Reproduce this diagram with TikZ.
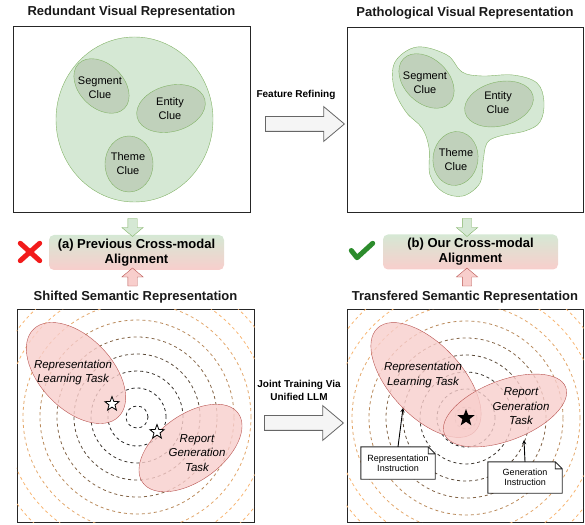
\documentclass[tikz,border=0pt]{standalone}
\usepackage{fontspec}
\setmainfont{Liberation Sans}
\usetikzlibrary{shapes.geometric, shapes.arrows, arrows, positioning}

\definecolor{cluefill}{HTML}{C0D1BB}
\definecolor{clueline}{HTML}{82B366}
\definecolor{greenfill}{HTML}{D5E8D4}
\definecolor{redfill}{HTML}{F8CECC}
\definecolor{redline}{HTML}{B85450}
\definecolor{ringfar}{HTML}{F8B571}
\definecolor{ringnear}{HTML}{262626}
\definecolor{checkgreen}{HTML}{2C8C2C}
\definecolor{crossred}{HTML}{F21B1B}

\tikzstyle{panel} = [rectangle, draw=black!85, line width=1pt, minimum width=237pt, inner sep=0pt]
\tikzstyle{heading} = [font=\fontsize{13}{15.6}\selectfont\bfseries, text=black!90]
\tikzstyle{clue} = [ellipse, draw=clueline, fill=cluefill, inner sep=0pt]
\tikzstyle{cluetext} = [align=center, font=\fontsize{11}{14}\selectfont]
\tikzstyle{task} = [ellipse, draw=redline, fill=redfill, fill opacity=0.8, inner sep=0pt]
\tikzstyle{tasktext} = [align=center, font=\fontsize{11.5}{14.5}\selectfont\itshape]
\tikzstyle{fusion} = [rectangle, rounded corners=5pt, top color=greenfill, bottom color=redfill, minimum width=175pt, minimum height=35pt, align=center, font=\fontsize{13}{15}\selectfont\bfseries]
\tikzstyle{bigarrow} = [single arrow, draw=black!60, fill=black!4, line width=0.8pt, minimum height=79pt, single arrow head extend=10pt, single arrow tip angle=80, inner sep=7pt]
\tikzstyle{steplabel} = [align=center, font=\fontsize{10}{13}\selectfont\bfseries]
\tikzstyle{downflow} = [single arrow, draw=clueline, fill=greenfill, rotate=-90, minimum height=18pt, single arrow head extend=6pt, single arrow tip angle=100, inner sep=4.5pt]
\tikzstyle{upflow} = [single arrow, draw=redline, fill=redfill, rotate=90, minimum height=18pt, single arrow head extend=6pt, single arrow tip angle=100, inner sep=4.5pt]
\tikzstyle{memo} = [rectangle, fill=white, minimum width=74pt, minimum height=32pt, align=center, inner sep=0pt, font=\fontsize{9}{9.8}\selectfont]
\tikzstyle{pointer} = [->, >=stealth, line width=0.9pt]
\tikzstyle{ring} = [dash pattern=on 3pt off 3pt, line width=0.8pt]
\tikzstyle{hollowstar} = [star, star points=5, star point ratio=2.4, draw=black, fill=white, minimum size=15pt, inner sep=0pt, line width=0.8pt]
\tikzstyle{solidstar} = [star, star points=5, star point ratio=2.4, fill=black, minimum size=18pt, inner sep=0pt]

\begin{document}
\begin{tikzpicture}[x=1pt, y=1pt]
\useasboundingbox (0,0) rectangle (585,524);

% visual side
\node (redbox) [panel, minimum height=186pt] at (131.5,404) {};
\node (redtitle) [heading, above=5pt of redbox] {Redundant Visual Representation};
\node (pathbox) [panel, minimum width=236pt, minimum height=185pt] at (465,403.5) {};
\node (pathtitle) [heading, above=5pt of pathbox] {Pathological Visual Representation};

\node (cloud) [ellipse, draw=clueline, fill=greenfill, minimum width=157pt, minimum height=165pt] at (134.5,404.5) {};
\node (segA) [clue, rotate=-44, minimum width=64pt, minimum height=44pt] at (101.5,438) {};
\node (entA) [clue, rotate=15, minimum width=70pt, minimum height=46pt] at (171,415.5) {};
\node (themeA) [clue, minimum width=48pt, minimum height=56pt] at (129,360) {};
\node (segAtext) [cluetext] at (100,436) {Segment\\Clue};
\node (entAtext) [cluetext] at (170,415) {Entity\\Clue};
\node (themeAtext) [cluetext] at (128,360) {Theme\\Clue};

\draw[draw=clueline, fill=greenfill] plot[smooth cycle, tension=0.6] coordinates {(395,462) (417,477) (447,469) (462,452) (482,448) (513,449) (537,441) (544,422) (540,402) (525,393) (500,388) (487,381) (483,362) (480,341) (463,328) (443,332) (430,349) (429,376) (422,396) (406,412) (394,436)};
\node (segB) [clue, rotate=-44, minimum width=64pt, minimum height=44pt] at (426.5,443) {};
\node (entB) [clue, rotate=14, minimum width=70pt, minimum height=44pt] at (499,420) {};
\node (themeB) [clue, rotate=-8, minimum width=45pt, minimum height=54pt] at (455.5,365.5) {};
\node (segBtext) [cluetext] at (425,441) {Segment\\Clue};
\node (entBtext) [cluetext] at (498,421) {Entity\\Clue};
\node (themeBtext) [cluetext] at (456,364) {Theme\\Clue};

\node (refine) [bigarrow] at (300.5,400) {};
\node (refinelabel) [steplabel] at (296,429) {Feature Refining};

% alignment
\node (prevalign) [fusion] at (136.5,271.5) {(a) Previous Cross-modal\\Alignment};
\node (ouralign) [fusion] at (470.5,272) {(b) Our Cross-modal\\Alignment};
\node (visflowA) [downflow] at (132.5,298.5) {};
\node (semflowA) [upflow] at (132.5,245) {};
\node (visflowB) [downflow] at (467,298.5) {};
\node (semflowB) [upflow] at (467,245) {};

\node (fail) [minimum width=19pt, minimum height=17pt, inner sep=0pt] at (30,272) {};
\draw[crossred, line width=5pt, line cap=round] (fail.north west) -- (fail.south east) (fail.north east) -- (fail.south west);
\node (pass) [minimum width=21pt, minimum height=14pt, inner sep=0pt] at (362,273.5) {};
\draw[checkgreen, line width=5pt, line cap=round, line join=round] (pass.west) -- ([xshift=-5pt]pass.south) -- (pass.north east);

% semantic side
\node (shiftbox) [panel, minimum height=212pt] at (135.5,108) {};
\node (shifttitle) [heading, above=3pt of shiftbox] {Shifted Semantic Representation};
\node (transbox) [panel, minimum width=236pt, minimum height=212pt] at (465,108) {};
\node (transtitle) [heading, above=3pt of transbox] {Transfered Semantic Representation};

\foreach \panel/\cx/\cy in {shiftbox/137/107, transbox/466/106} {
  \begin{scope}
    \clip (\panel.south west) rectangle (\panel.north east);
    \foreach \r/\p in {11/0, 29/0, 46/10, 63/25, 80/45, 97/70, 114/90, 131/100, 148/100, 165/100}
      \draw[ring, ringfar!\p!ringnear] (\cx,\cy) circle (\r);
  \end{scope}
}

\node (replearnA) [task, rotate=-46, minimum width=122pt, minimum height=72pt] at (76,151) {};
\node (repgenA) [task, rotate=36, minimum width=118pt, minimum height=66pt] at (190.5,76) {};
\node (replearnAtext) [tasktext] at (73,151.5) {Representation\\Learning Task};
\node (repgenAtext) [tasktext] at (197,71) {Report\\Generation\\Task};
\node (optA) [hollowstar] at (112,120) {};
\node (optB) [hollowstar] at (157,92) {};

\node (replearnB) [task, rotate=-47, minimum width=142pt, minimum height=72pt] at (426,144) {};
\node (repgenB) [task, rotate=21, minimum width=130pt, minimum height=60pt] at (505,113.5) {};
\node (replearnBtext) [tasktext] at (423,149) {Representation\\Learning Task};
\node (repgenBtext) [tasktext] at (521,117.5) {Report\\Generation\\Task};
\node (optC) [solidstar] at (466,106) {};

\node (repins) [memo] at (398,61) {Representation\\Instruction};
\node (genins) [memo, minimum height=31pt] at (525,46.5) {Generation\\Instruction};
\foreach \n in {repins, genins}
  \draw[black!85, line width=0.9pt] (\n.south west) -- (\n.north west) -- ([xshift=-7pt]\n.north east) -- ([yshift=-7pt]\n.north east) -- (\n.south east) -- cycle ([xshift=-7pt]\n.north east) |- ([yshift=-7pt]\n.north east);

\coordinate (repmark) at (403,116);
\coordinate (genmark) at (524,84);
\draw[pointer] (repins.north) -- (repmark);
\draw[pointer] (genins.north) -- (genmark);

\node (joint) [bigarrow] at (299.5,101) {};
\node (jointlabel) [steplabel] at (299,134) {Joint Training Via\\Unified LLM};

\end{tikzpicture}
\end{document}
